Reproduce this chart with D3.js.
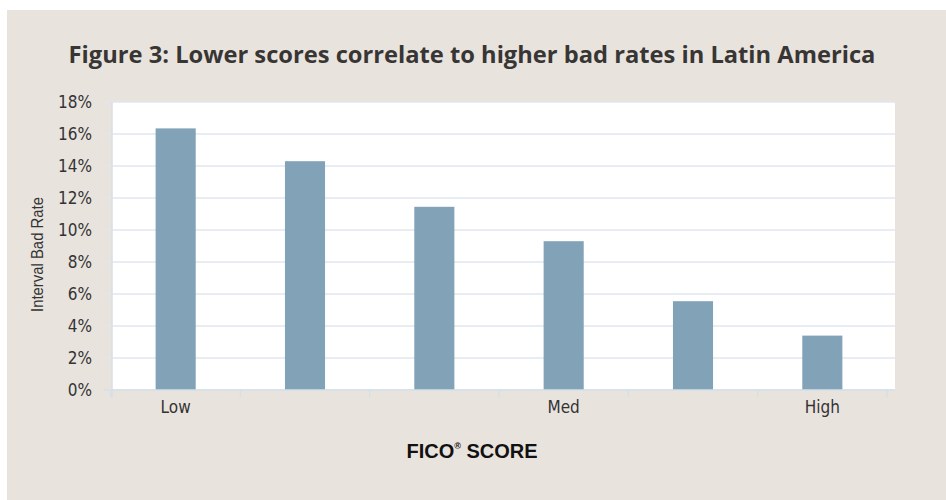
<!DOCTYPE html>
<html>
<head>
<meta charset="utf-8">
<script src="https://cdnjs.cloudflare.com/ajax/libs/d3/7.8.5/d3.min.js"></script>
<style>
  body { margin: 0; background: #fff; }
  svg { display: block; }
  .axis path, .axis line { stroke: #d5dfe7; }
  .axis text { font-family: "Liberation Sans Narrow", "DejaVu Sans Condensed", sans-serif; fill: #333; }
</style>
</head>
<body>
<div id="chart-area"></div>
<script>
// data
var categories = ["Low", "", "", "Med", "", "High"];
var badRates = [16.35, 14.3, 11.45, 9.3, 5.55, 3.4];
var yTicks = [0, 2, 4, 6, 8, 10, 12, 14, 16, 18];

var width = 946;
var height = 500;
var plot = {left: 111, right: 887, top: 102, bottom: 390};

var svg = d3.select("#chart-area")
  .append("svg")
    .attr("width", width)
    .attr("height", height);

// beige panel
svg.append("rect")
  .attr("x", 7)
  .attr("y", 10)
  .attr("width", width - 7)
  .attr("height", height - 10)
  .attr("fill", "#e9e3de");

// white plotting area
svg.append("rect")
  .attr("x", 112)
  .attr("y", plot.top)
  .attr("width", 895 - 112)
  .attr("height", plot.bottom - plot.top)
  .attr("fill", "#ffffff");

var x = d3.scaleBand()
  .domain(d3.range(categories.length))
  .range([plot.left, plot.right])
  .paddingInner(0.69)
  .paddingOuter(0.345);

var y = d3.scaleLinear()
  .domain([0, 18])
  .range([plot.bottom, plot.top]);

// gridlines
svg.append("g")
  .selectAll("line")
  .data(yTicks)
  .enter().append("line")
    .attr("x1", 104)
    .attr("x2", 895)
    .attr("y1", (d) => { return y(d); })
    .attr("y2", (d) => { return y(d); })
    .attr("stroke", "#dfe7ee")
    .attr("stroke-width", 1.5);

// y axis
var yAxisGroup = svg.append("g")
  .attr("class", "axis")
  .attr("transform", "translate(112, 0)")
  .call(d3.axisLeft(y)
    .tickValues(yTicks)
    .tickSize(0)
    .tickPadding(20)
    .tickFormat((d) => { return d + "%"; }));
yAxisGroup.select(".domain").remove();
yAxisGroup.selectAll("text").attr("font-size", "17px");

svg.append("line")
  .attr("x1", 112).attr("x2", 112)
  .attr("y1", plot.top).attr("y2", plot.bottom + 8)
  .attr("stroke", "#d5dfe7")
  .attr("stroke-width", 1.5);

// bars
svg.append("g")
  .selectAll("rect")
  .data(badRates)
  .enter().append("rect")
    .attr("x", (d, i) => { return x(i); })
    .attr("y", (d) => { return y(d); })
    .attr("width", x.bandwidth())
    .attr("height", (d) => { return y(0) - y(d); })
    .attr("fill", "#82a2b7");

// x axis
var xAxisGroup = svg.append("g")
  .attr("class", "axis")
  .attr("transform", "translate(0, " + plot.bottom + ")")
  .call(d3.axisBottom(x)
    .tickSize(0)
    .tickPadding(11)
    .tickFormat((i) => { return categories[i]; }));
xAxisGroup.select(".domain")
  .attr("d", "M104,0H895")
  .attr("stroke-width", 1.5);
xAxisGroup.selectAll("text").attr("font-size", "17px");

// tick marks on band boundaries
var boundaries = d3.range(categories.length + 1);
xAxisGroup.append("g")
  .selectAll("line")
  .data(boundaries)
  .enter().append("line")
    .attr("x1", (i) => { return plot.left + i * x.step(); })
    .attr("x2", (i) => { return plot.left + i * x.step(); })
    .attr("y1", 0)
    .attr("y2", 7)
    .attr("stroke", "#d5dfe7")
    .attr("stroke-width", 1.5);

// title
var title = svg.append("text")
  .attr("x", 472)
  .attr("y", 63)
  .attr("text-anchor", "middle")
  .attr("font-family", "'Open Sans', sans-serif")
  .attr("font-weight", "bold")
  .attr("font-size", "25px")
  .attr("fill", "#383634")
  .text("Figure 3: Lower scores correlate to higher bad rates in Latin America");
var tw = title.node().getComputedTextLength();
title.attr("font-size", (25 * 807 / tw) + "px");

// y label
svg.append("text")
  .attr("transform", "translate(43, 254.5) rotate(-90)")
  .attr("text-anchor", "middle")
  .attr("font-family", "'Liberation Sans Narrow', sans-serif")
  .attr("font-size", "17px")
  .attr("textLength", 115)
  .attr("lengthAdjust", "spacingAndGlyphs")
  .attr("fill", "#333")
  .text("Interval Bad Rate");

// x label
var xLabel = svg.append("text")
  .attr("x", 472)
  .attr("y", 458)
  .attr("text-anchor", "middle")
  .attr("font-family", "'Liberation Sans Narrow', sans-serif")
  .attr("font-weight", "bold")
  .attr("font-size", "20px")
  .attr("fill", "#111");
xLabel.append("tspan").text("FICO");
xLabel.append("tspan").attr("font-size", "9px").attr("dy", "-9").text("®");
xLabel.append("tspan").attr("dy", "9").text(" SCORE");
</script>
</body>
</html>
